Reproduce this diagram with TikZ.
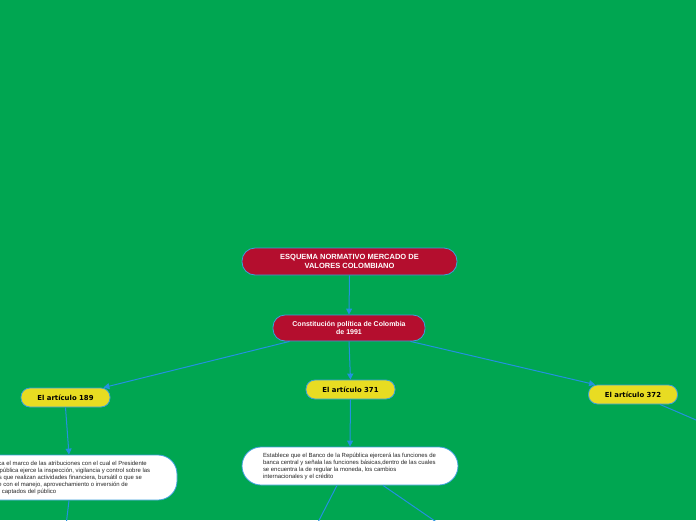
\documentclass[tikz,border=0pt]{standalone}
\usepackage{fontspec}
\setmainfont{Liberation Sans}
\newfontfamily\djv{DejaVu Sans}
\usetikzlibrary{arrows.meta}
\definecolor{bggreen}{RGB}{0,166,81}
\definecolor{crim}{RGB}{180,14,46}
\definecolor{yel}{RGB}{232,220,34}
\definecolor{edgeblue}{RGB}{60,160,220}
\definecolor{linkblue}{RGB}{35,145,225}
\tikzset{
  titlebox/.style={draw=edgeblue, line width=0.8pt, fill=crim, text=white, rounded corners=13pt,
    align=center, inner sep=0pt, font=\fontsize{7.5}{9}\selectfont\bfseries},
  artbox/.style={draw=edgeblue, line width=0.8pt, fill=yel, text=black, rounded corners=9pt,
    align=center, inner sep=0pt, minimum width=89pt, minimum height=19pt, font=\djv\fontsize{6.9}{8}\selectfont\bfseries},
  textbox/.style={draw=edgeblue, line width=0.8pt, fill=white, text=black!85, rounded corners=19pt,
    align=left, inner sep=0pt, font=\fontsize{5.95}{7}\selectfont},
  link/.style={draw=linkblue, line width=1pt},
  linka/.style={link, -{Triangle[length=6pt,width=6pt]}}
}
\begin{document}
\begin{tikzpicture}[x=1pt,y=-1pt]
\useasboundingbox (0,0) rectangle (696,520);
\fill[bggreen] (0,0) rectangle (696,520);
\clip (0,0) rectangle (696,520);

\node[titlebox, minimum width=215pt, minimum height=27pt] (title) at (349.5,261.5)
  {ESQUEMA NORMATIVO MERCADO DE\\VALORES COLOMBIANO};
\node[titlebox, rounded corners=12pt, minimum width=152pt, minimum height=26pt,
  font=\fontsize{7}{8.5}\selectfont\bfseries] (const) at (349,328)
  {Constitución política de Colombia\\de 1991};

\node[artbox] (a189) at (65.5,397.5) {El artículo 189};
\node[artbox] (a371) at (350.5,389.5) {El artículo 371};
\node[artbox] (a372) at (633,394.5) {El artículo 372};

\node[textbox, minimum width=216pt, minimum height=45pt] (t189) at (69,477.5)
  {\parbox{183pt}{Especifica el marco de las atribuciones con el cual el Presidente\\
  de la República ejerce la inspección, vigilancia y control sobre las\\
  personas que realizan actividades financiera, bursátil o que  se\\
  relacione con el manejo, aprovechamiento o inversión de\\
  recursos captados del público}};
\node[textbox, minimum width=216pt, minimum height=38pt] (t371) at (350,466)
  {\parbox{174pt}{Establece que el Banco de la República ejercerá las funciones de\\
  banca central y señala las funciones básicas,dentro de las cuales\\
  se encuentra la de regular la moneda, los cambios\\
  internacionales y el crédito}};

\coordinate (e372) at (710,426);
\coordinate (e189) at (65.5,530);
\coordinate (e371a) at (314,530);
\coordinate (e371b) at (448,530);

\draw[linka] (title.south) -- (const.north);
\draw[linka] ([xshift=17pt]const.south west) -- ([xshift=-7pt]a189.north east);
\draw[linka] (const.south) -- (a371.north);
\draw[linka] ([xshift=-15pt]const.south east) -- ([xshift=7pt]a372.north west);
\draw[linka] (a189.south) -- (t189.north);
\draw[linka] (a371.south) -- (t371.north);
\draw[link] ([xshift=-18pt]a372.south east) -- (e372);
\draw[link] (t189.south) -- (e189);
\draw[link] ([xshift=-13pt]t371.south) -- (e371a);
\draw[link] ([xshift=33pt]t371.south) -- (e371b);
\end{tikzpicture}
\end{document}
